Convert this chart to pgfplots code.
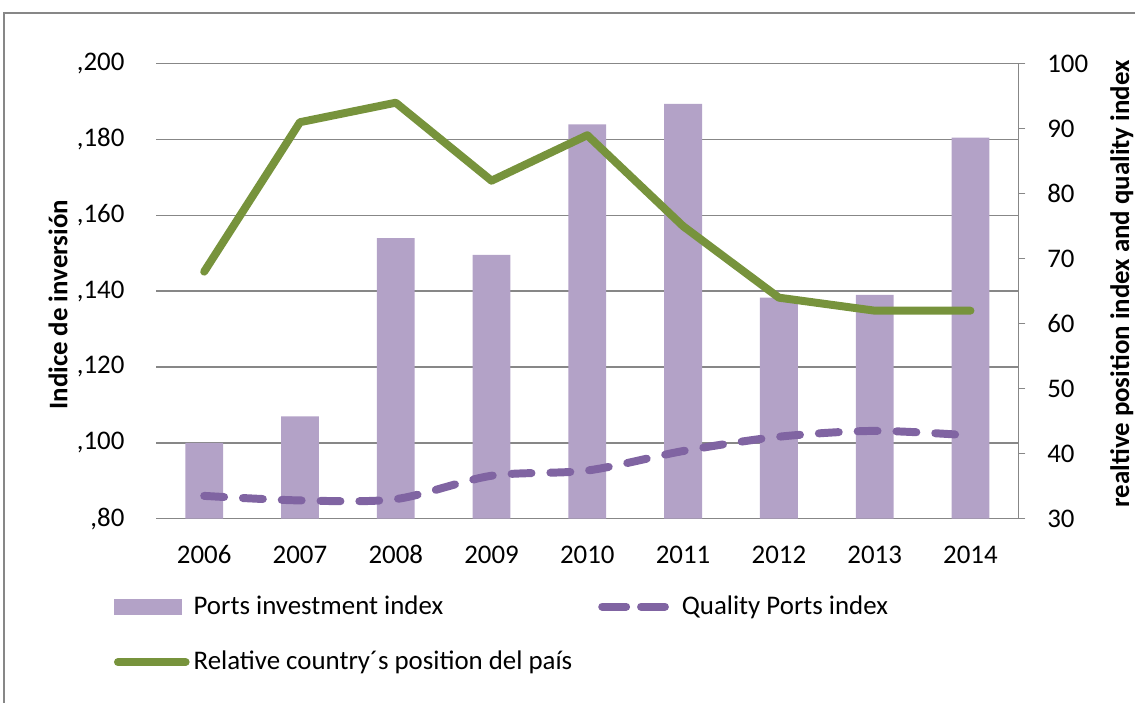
\documentclass[border=0pt]{standalone}
\usepackage{fontspec}
\setmainfont{Carlito}
\usepackage{pgfplots}
\pgfplotsset{compat=1.18}
\definecolor{barcol}{HTML}{B3A2C7}
\definecolor{qcol}{HTML}{8064A2}
\definecolor{gcol}{HTML}{77933C}
\definecolor{gridc}{HTML}{878787}
\begin{document}
\begin{tikzpicture}[x=1pt,y=1pt]
\path (0,0) rectangle (570,353);
\draw[gridc, line width=0.75pt] (2,0) -- (2,346.5) -- (570,346.5);
\begin{axis}[
  at={(78.5pt,92.5pt)}, anchor=south west,
  scale only axis, width=433pt, height=228.5pt,
  xmin=-0.5, xmax=8.5, ymin=0.08, ymax=0.2,
  xtick={0,...,8}, xticklabels={2006,2007,2008,2009,2010,2011,2012,2013,2014},
  ytick={0.08,0.10,0.12,0.14,0.16,0.18,0.20},
  yticklabels={{,80},{,100},{,120},{,140},{,160},{,180},{,200}},
  axis line style={draw=none},
  major tick length=0pt,
  ymajorgrids, grid style={gridc, line width=0.75pt},
  tick label style={font=\fontsize{13.5}{16}\selectfont},
  xticklabel style={yshift=-10pt},
  yticklabel style={xshift=-12.5pt},
  clip=false,
]
\addplot[ybar, bar width=19pt, fill=barcol, draw=none] coordinates {
(0,0.100) (1,0.107) (2,0.154) (3,0.1496) (4,0.184) (5,0.1894) (6,0.1383) (7,0.139) (8,0.1805)};
\node[rotate=90, font=\bfseries\fontsize{13.5}{16}\selectfont] at (rel axis cs:-0.114,0.47) {Indice de inversión};
\node[rotate=90, font=\bfseries\fontsize{13.5}{16}\selectfont] at (rel axis cs:1.12,0.516) {realtive position index and quality index};
\end{axis}
\begin{axis}[
  at={(78.5pt,92.5pt)}, anchor=south west,
  scale only axis, width=433pt, height=228.5pt,
  xmin=-0.5, xmax=8.5, ymin=30, ymax=100,
  axis x line=none, axis y line*=right,
  axis line style={gridc, line width=0.75pt},
  ytick={30,40,...,100}, yticklabels={30,40,50,60,70,80,90,100},
  tick align=outside, major tick length=3.5pt,
  tick style={gridc, line width=0.75pt},
  tick label style={font=\fontsize{13.5}{16}\selectfont},
  yticklabel style={xshift=7.5pt},
  clip=false,
  legend columns=2,
  legend cell align=left,
  legend style={at={(rel axis cs:-0.05,-0.16)}, anchor=north west, draw=none, fill=none,
    font=\fontsize{13.5}{16}\selectfont, inner sep=0pt, row sep=13pt,
    /tikz/every even column/.append style={column sep=11pt}},
]
\addlegendimage{legend image code/.code={\fill[barcol] (0pt,-3.75pt) rectangle (34pt,3.75pt);}}
\addlegendentry{Ports investment index}
\addplot[qcol, line width=4pt, dash pattern=on 10pt off 9.5pt, line cap=round, smooth,
  legend image code/.code={\draw[qcol, line width=4pt, dash pattern=on 10pt off 9.5pt, line cap=round] (2pt,0pt) -- (32pt,0pt); \path (0pt,0pt) -- (36pt,0pt);}] coordinates {
(0,33.5) (1,32.8) (2,33.0) (3,36.6) (4,37.4) (5,40.4) (6,42.6) (7,43.5) (8,42.8)};
\addlegendentry{Quality Ports index}
\addplot[gcol, line width=4pt, line cap=round, line join=round,
  legend image code/.code={\draw[gcol, line width=4pt, line cap=round] (2pt,0pt) -- (36pt,0pt);}] coordinates {
(0,68) (1,91) (2,94) (3,82) (4,89) (5,75) (6,64) (7,62) (8,62)};
\addlegendentry{Relative country´s position del país}
\end{axis}
\end{tikzpicture}
\end{document}
